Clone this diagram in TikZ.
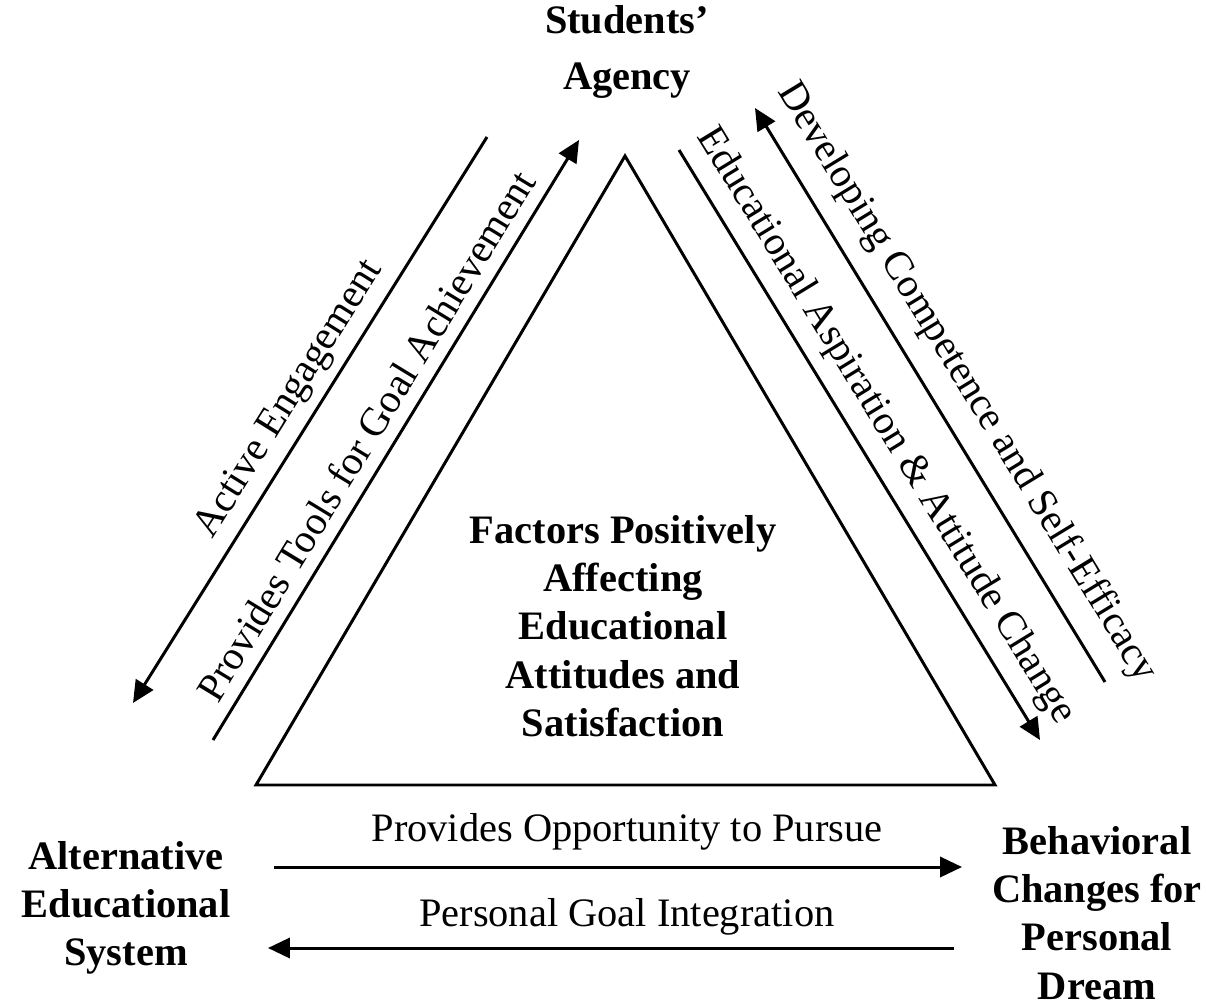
\documentclass[tikz,border=0pt]{standalone}
\usepackage{fontspec}
\setmainfont{Liberation Serif}
\usetikzlibrary{arrows.meta,positioning}

\begin{document}
\begin{tikzpicture}[
    x=0.02cm, y=-0.02cm,
    label/.style={font=\fontsize{23}{27.5}\selectfont, inner sep=3pt},
    actor/.style={align=center, font=\fontsize{23}{27.5}\selectfont\bfseries},
    link/.style={-{Triangle[length=12.5pt,width=11.5pt]}, line width=1.7pt},
    side/.style={line width=1.7pt, line join=miter},
]
\useasboundingbox (0,0) rectangle (1206,1006);

%--- Corner nodes ---%
\node[actor, font=\fontsize{23}{32}\selectfont\bfseries] (agency) at (627,52) {Students’\\Agency};
\node[actor] (system) at (126,908) {Alternative\\Educational\\System};
\node[actor] (dream) at (1097,913) {Behavioral\\Changes for\\Personal\\Dream};

%--- Central triangle ---%
\coordinate (apex) at (625,156);
\coordinate (baseL) at (256,785);
\coordinate (baseR) at (995,785);
\draw[side] (apex) -- (baseL) -- (baseR) -- cycle;
\node[actor] (factors) at (623,626) {Factors Positively\\Affecting\\Educational\\Attitudes and\\Satisfaction};

%--- Left side: agency <-> system ---%
\coordinate (engage-from) at (487,137);
\coordinate (engage-to) at (133,703);
\coordinate (tools-from) at (213,740);
\coordinate (tools-to) at (579,140);
\draw[link] (engage-from) -- (engage-to)
    node[label, pos=0.49, sloped, above=2pt] {Active Engagement};
\draw[link] (tools-from) -- (tools-to)
    node[label, pos=0.483, sloped, above=4pt] {Provides Tools for Goal Achievement};

%--- Right side: agency <-> dream ---%
\coordinate (aspire-from) at (679,150);
\coordinate (aspire-to) at (1040,740);
\coordinate (compet-from) at (1105,682);
\coordinate (compet-to) at (755,108);
\draw[link] (aspire-from) -- (aspire-to)
    node[label, pos=0.496, sloped, above=4pt] {Educational Aspiration \& Attitude Change};
\draw[link] (compet-from) -- (compet-to)
    node[label, pos=0.488, sloped, above=7pt] {Developing Competence and Self-Efficacy};

%--- Bottom: system <-> dream ---%
\coordinate (pursue-from) at (274,867);
\coordinate (pursue-to) at (962,867);
\coordinate (goal-from) at (954,948);
\coordinate (goal-to) at (268,948);
\draw[link] (pursue-from) -- (pursue-to)
    node[label, pos=0.513, above=5.5pt] {Provides Opportunity to Pursue};
\draw[link] (goal-from) -- (goal-to)
    node[label, pos=0.477, above=3.7pt] {Personal Goal Integration};

\end{tikzpicture}
\end{document}
